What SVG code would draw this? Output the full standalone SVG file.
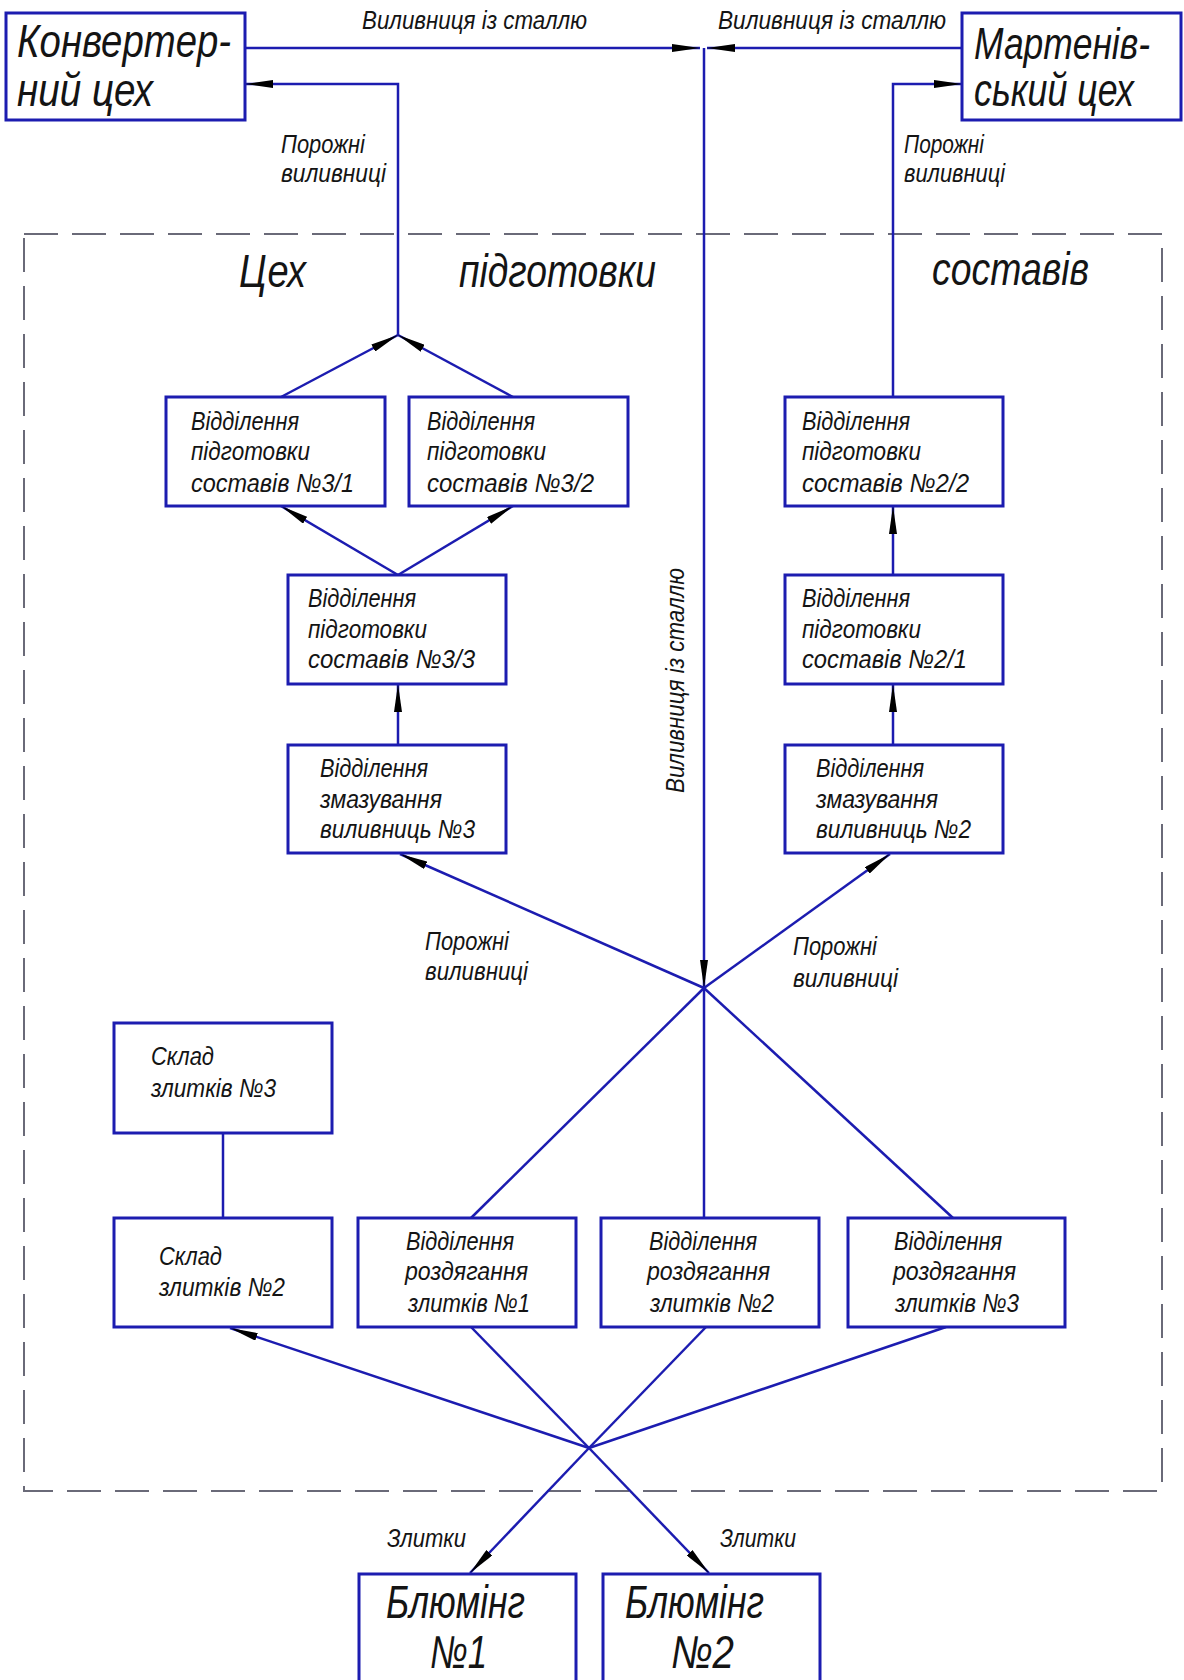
<svg xmlns="http://www.w3.org/2000/svg" width="1184" height="1680" viewBox="0 0 1184 1680">
<style>
.box{fill:#fff;stroke:#1c1cb0;stroke-width:3}
.ln{fill:none;stroke:#1c1cb0;stroke-width:2.5}
.arr{marker-end:url(#ah)}
.t{font-family:"Liberation Sans",Arial,sans-serif;font-style:italic;fill:#141414}
.big{font-size:46px}
.bt{font-size:26px}
.el{font-size:25px}
.frame{fill:none;stroke:#6a6a78;stroke-width:2;stroke-dasharray:34 14}
</style>
<defs>
<marker id="ah" viewBox="0 0 28 8" refX="28" refY="4" markerWidth="28" markerHeight="8" markerUnits="userSpaceOnUse" orient="auto">
<path d="M0,0 L28,4 L0,8 z" fill="#000"/>
</marker>
</defs>
<rect width="1184" height="1680" fill="#fff"/>

<rect id="frame" class="frame" x="24" y="234" width="1138" height="1257"/>
<g id="frame-title">
<text class="t big" x="239" y="287" textLength="67" lengthAdjust="spacingAndGlyphs">Цех</text>
<text class="t big" x="459" y="287" textLength="197" lengthAdjust="spacingAndGlyphs">підготовки</text>
<text class="t big" x="932" y="285" textLength="157" lengthAdjust="spacingAndGlyphs">составів</text>
</g>

<g id="connectors">
<line class="ln arr" x1="245" y1="48" x2="700" y2="48"/>
<line class="ln arr" x1="962" y1="48" x2="707" y2="48"/>
<line class="ln arr" x1="704" y1="48" x2="704" y2="988"/>
<polyline class="ln arr" points="398,335 398,84 245,84"/>
<line class="ln arr" x1="281" y1="397" x2="398" y2="335"/>
<line class="ln arr" x1="513" y1="397" x2="398" y2="335"/>
<line class="ln arr" x1="398" y1="575" x2="281" y2="506"/>
<line class="ln arr" x1="398" y1="575" x2="513" y2="506"/>
<line class="ln arr" x1="398" y1="745" x2="398" y2="684"/>
<line class="ln arr" x1="704" y1="988" x2="400" y2="854"/>
<line class="ln arr" x1="704" y1="988" x2="890" y2="854"/>
<line class="ln arr" x1="893" y1="745" x2="893" y2="684"/>
<line class="ln arr" x1="893" y1="575" x2="893" y2="506"/>
<polyline class="ln arr" points="893,397 893,84 962,84"/>
<line class="ln" x1="471" y1="1218" x2="704" y2="988"/>
<line class="ln" x1="704" y1="1218" x2="704" y2="988"/>
<line class="ln" x1="953" y1="1218" x2="704" y2="988"/>
<line class="ln" x1="223" y1="1133" x2="223" y2="1218"/>
<line class="ln" x1="471" y1="1327" x2="589" y2="1448"/>
<line class="ln" x1="706" y1="1327" x2="589" y2="1448"/>
<line class="ln" x1="946" y1="1327" x2="589" y2="1448"/>
<line class="ln arr" x1="589" y1="1448" x2="230" y2="1328"/>
<line class="ln arr" x1="589" y1="1448" x2="470" y2="1573"/>
<line class="ln arr" x1="589" y1="1448" x2="709" y2="1573"/>
</g>

<g id="edge-labels">
<text class="t el" x="362" y="29" textLength="225" lengthAdjust="spacingAndGlyphs">Виливниця із сталлю</text>
<text class="t el" x="718" y="29" textLength="228" lengthAdjust="spacingAndGlyphs">Виливниця із сталлю</text>
<text class="t el" x="281" y="153" textLength="84" lengthAdjust="spacingAndGlyphs">Порожні</text>
<text class="t el" x="281" y="182" textLength="105" lengthAdjust="spacingAndGlyphs">виливниці</text>
<text class="t el" x="904" y="153" textLength="80" lengthAdjust="spacingAndGlyphs">Порожні</text>
<text class="t el" x="904" y="182" textLength="101" lengthAdjust="spacingAndGlyphs">виливниці</text>
<text class="t el" transform="translate(684,793) rotate(-90)" textLength="225" lengthAdjust="spacingAndGlyphs">Виливниця із сталлю</text>
<text class="t el" x="425" y="950" textLength="84" lengthAdjust="spacingAndGlyphs">Порожні</text>
<text class="t el" x="425" y="980" textLength="103" lengthAdjust="spacingAndGlyphs">виливниці</text>
<text class="t el" x="793" y="955" textLength="84" lengthAdjust="spacingAndGlyphs">Порожні</text>
<text class="t el" x="793" y="987" textLength="105" lengthAdjust="spacingAndGlyphs">виливниці</text>
<text class="t el" x="387" y="1547" textLength="79" lengthAdjust="spacingAndGlyphs">Злитки</text>
<text class="t el" x="720" y="1547" textLength="76" lengthAdjust="spacingAndGlyphs">Злитки</text>
</g>

<g id="konverter">
<rect class="box" x="6" y="13" width="239" height="107"/>
<text class="t big" x="17" y="57" textLength="214" lengthAdjust="spacingAndGlyphs">Конвертер-</text>
<text class="t big" x="17" y="106" textLength="136" lengthAdjust="spacingAndGlyphs">ний цех</text>
</g>
<g id="marten">
<rect class="box" x="962" y="13" width="219" height="107"/>
<text class="t" style="font-size:44px" x="974" y="59" textLength="176" lengthAdjust="spacingAndGlyphs">Мартенів-</text>
<text class="t big" x="974" y="106" textLength="160" lengthAdjust="spacingAndGlyphs">ський цех</text>
</g>

<g id="vps31">
<rect class="box" x="166" y="397" width="219" height="109"/>
<text class="t bt" x="191" y="430" textLength="108" lengthAdjust="spacingAndGlyphs">Відділення</text>
<text class="t bt" x="191" y="460" textLength="119" lengthAdjust="spacingAndGlyphs">підготовки</text>
<text class="t bt" x="191" y="492" textLength="163" lengthAdjust="spacingAndGlyphs">составів №3/1</text>
</g>
<g id="vps32">
<rect class="box" x="409" y="397" width="219" height="109"/>
<text class="t bt" x="427" y="430" textLength="108" lengthAdjust="spacingAndGlyphs">Відділення</text>
<text class="t bt" x="427" y="460" textLength="119" lengthAdjust="spacingAndGlyphs">підготовки</text>
<text class="t bt" x="427" y="492" textLength="167" lengthAdjust="spacingAndGlyphs">составів №3/2</text>
</g>
<g id="vps22">
<rect class="box" x="785" y="397" width="218" height="109"/>
<text class="t bt" x="802" y="430" textLength="108" lengthAdjust="spacingAndGlyphs">Відділення</text>
<text class="t bt" x="802" y="460" textLength="119" lengthAdjust="spacingAndGlyphs">підготовки</text>
<text class="t bt" x="802" y="492" textLength="167" lengthAdjust="spacingAndGlyphs">составів №2/2</text>
</g>
<g id="vps33">
<rect class="box" x="288" y="575" width="218" height="109"/>
<text class="t bt" x="308" y="607" textLength="108" lengthAdjust="spacingAndGlyphs">Відділення</text>
<text class="t bt" x="308" y="638" textLength="119" lengthAdjust="spacingAndGlyphs">підготовки</text>
<text class="t bt" x="308" y="668" textLength="167" lengthAdjust="spacingAndGlyphs">составів №3/3</text>
</g>
<g id="vps21">
<rect class="box" x="785" y="575" width="218" height="109"/>
<text class="t bt" x="802" y="607" textLength="108" lengthAdjust="spacingAndGlyphs">Відділення</text>
<text class="t bt" x="802" y="638" textLength="119" lengthAdjust="spacingAndGlyphs">підготовки</text>
<text class="t bt" x="802" y="668" textLength="165" lengthAdjust="spacingAndGlyphs">составів №2/1</text>
</g>
<g id="vzv3">
<rect class="box" x="288" y="745" width="218" height="108"/>
<text class="t bt" x="320" y="777" textLength="108" lengthAdjust="spacingAndGlyphs">Відділення</text>
<text class="t bt" x="320" y="808" textLength="122" lengthAdjust="spacingAndGlyphs">змазування</text>
<text class="t bt" x="320" y="838" textLength="155" lengthAdjust="spacingAndGlyphs">виливниць №3</text>
</g>
<g id="vzv2">
<rect class="box" x="785" y="745" width="218" height="108"/>
<text class="t bt" x="816" y="777" textLength="108" lengthAdjust="spacingAndGlyphs">Відділення</text>
<text class="t bt" x="816" y="808" textLength="122" lengthAdjust="spacingAndGlyphs">змазування</text>
<text class="t bt" x="816" y="838" textLength="155" lengthAdjust="spacingAndGlyphs">виливниць №2</text>
</g>

<g id="sklad3">
<rect class="box" x="114" y="1023" width="218" height="110"/>
<text class="t bt" x="151" y="1065" textLength="63" lengthAdjust="spacingAndGlyphs">Склад</text>
<text class="t bt" x="151" y="1097" textLength="125" lengthAdjust="spacingAndGlyphs">злитків №3</text>
</g>
<g id="sklad2">
<rect class="box" x="114" y="1218" width="218" height="109"/>
<text class="t bt" x="159" y="1265" textLength="63" lengthAdjust="spacingAndGlyphs">Склад</text>
<text class="t bt" x="159" y="1296" textLength="126" lengthAdjust="spacingAndGlyphs">злитків №2</text>
</g>
<g id="vrz1">
<rect class="box" x="358" y="1218" width="218" height="109"/>
<text class="t bt" x="406" y="1250" textLength="108" lengthAdjust="spacingAndGlyphs">Відділення</text>
<text class="t bt" x="405" y="1280" textLength="123" lengthAdjust="spacingAndGlyphs">роздягання</text>
<text class="t bt" x="408" y="1312" textLength="122" lengthAdjust="spacingAndGlyphs">злитків №1</text>
</g>
<g id="vrz2">
<rect class="box" x="601" y="1218" width="218" height="109"/>
<text class="t bt" x="649" y="1250" textLength="108" lengthAdjust="spacingAndGlyphs">Відділення</text>
<text class="t bt" x="647" y="1280" textLength="123" lengthAdjust="spacingAndGlyphs">роздягання</text>
<text class="t bt" x="650" y="1312" textLength="124" lengthAdjust="spacingAndGlyphs">злитків №2</text>
</g>
<g id="vrz3">
<rect class="box" x="848" y="1218" width="217" height="109"/>
<text class="t bt" x="894" y="1250" textLength="108" lengthAdjust="spacingAndGlyphs">Відділення</text>
<text class="t bt" x="893" y="1280" textLength="123" lengthAdjust="spacingAndGlyphs">роздягання</text>
<text class="t bt" x="895" y="1312" textLength="124" lengthAdjust="spacingAndGlyphs">злитків №3</text>
</g>

<g id="bluming1">
<rect class="box" x="359" y="1574" width="217" height="130"/>
<text class="t big" x="386" y="1618" textLength="139" lengthAdjust="spacingAndGlyphs">Блюмінг</text>
<text class="t big" x="430" y="1668" textLength="57" lengthAdjust="spacingAndGlyphs">№1</text>
</g>
<g id="bluming2">
<rect class="box" x="603" y="1574" width="217" height="130"/>
<text class="t big" x="625" y="1618" textLength="139" lengthAdjust="spacingAndGlyphs">Блюмінг</text>
<text class="t big" x="671" y="1668" textLength="63" lengthAdjust="spacingAndGlyphs">№2</text>
</g>
</svg>
